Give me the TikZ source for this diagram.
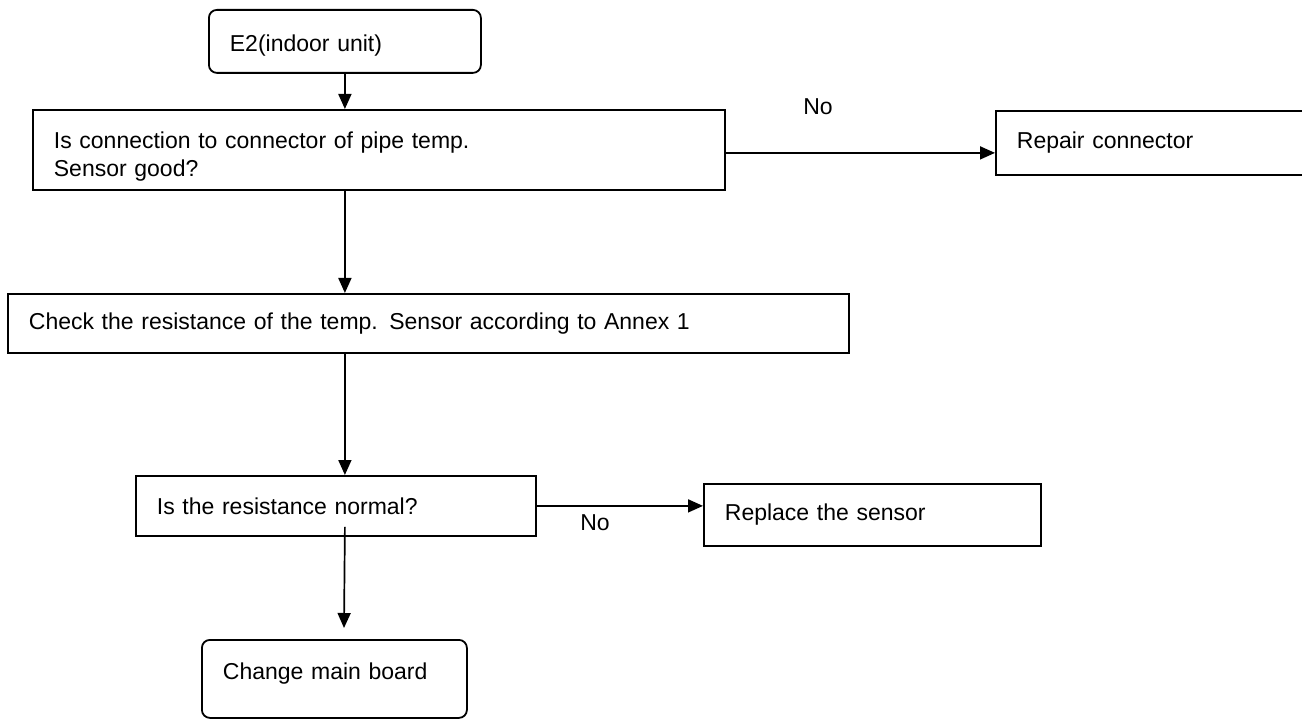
\documentclass[tikz,border=0pt]{standalone}
\usepackage{fontspec}
\setmainfont{Liberation Sans}
\usetikzlibrary{arrows.meta}

\tikzset{
  box/.style={draw, line width=1.8pt, anchor=north west, inner xsep=21pt, inner ysep=0pt, align=left, font=\fontsize{23}{28}\selectfont},
  rbox/.style={box, rounded corners=8pt},
  arr/.style={-{Triangle[length=15pt,width=13pt]}, line width=1.7pt},
  lbl/.style={font=\fontsize{23}{28}\selectfont}
}

\begin{document}
\begin{tikzpicture}[x=1pt,y=-1pt]
\useasboundingbox (0,0) rectangle (1302,719);

%boxes
\node[rbox, minimum width=272pt, minimum height=63pt, text width=230pt, text height=26pt, text depth=5pt] (e2) at (208,9) {E2(indoor unit)};
\node[box, minimum width=692pt, minimum height=80pt, text width=650pt] (conn) at (32,109) {\rule{0pt}{30pt}Is connection to connector of pipe temp.\\Sensor good?};
\node[box, minimum width=310pt, minimum height=64pt, text width=268pt] (repair) at (995,110) {Repair connector};
\node[box, minimum width=841pt, minimum height=59pt, text width=799pt] (check) at (7,293) {Check the resistance of the temp. Sensor according to Annex 1};
\node[box, minimum width=400pt, minimum height=60pt, text width=358pt] (normal) at (135,475) {Is the resistance normal?};
\node[box, minimum width=337pt, minimum height=62pt, text width=295pt] (replace) at (703,483) {Replace the sensor};
\node[rbox, minimum width=265pt, minimum height=78pt, text width=223pt, text height=17pt, text depth=15pt] (board) at (201,639) {Change main board};

%labels
\node[lbl] (no1) at (818,107) {No};
\node[lbl] (no2) at (595,523) {No};

%arrows
\coordinate (tip) at (344,628);
\draw[arr] (e2.south) -- (e2.south |- conn.north);
\draw[arr] (conn.south -| e2.south) -- (check.north -| e2.south);
\draw[arr] (check.south -| e2.south) -- (normal.north -| e2.south);
\draw[arr] ([yshift=10pt]normal.south -| e2.south) -- (tip);
\draw[arr] ([yshift=-3pt]conn.east) -- ([yshift=-3pt]conn.east -| repair.west);
\draw[arr] (normal.east) -- (normal.east -| replace.west);

\end{tikzpicture}
\end{document}
